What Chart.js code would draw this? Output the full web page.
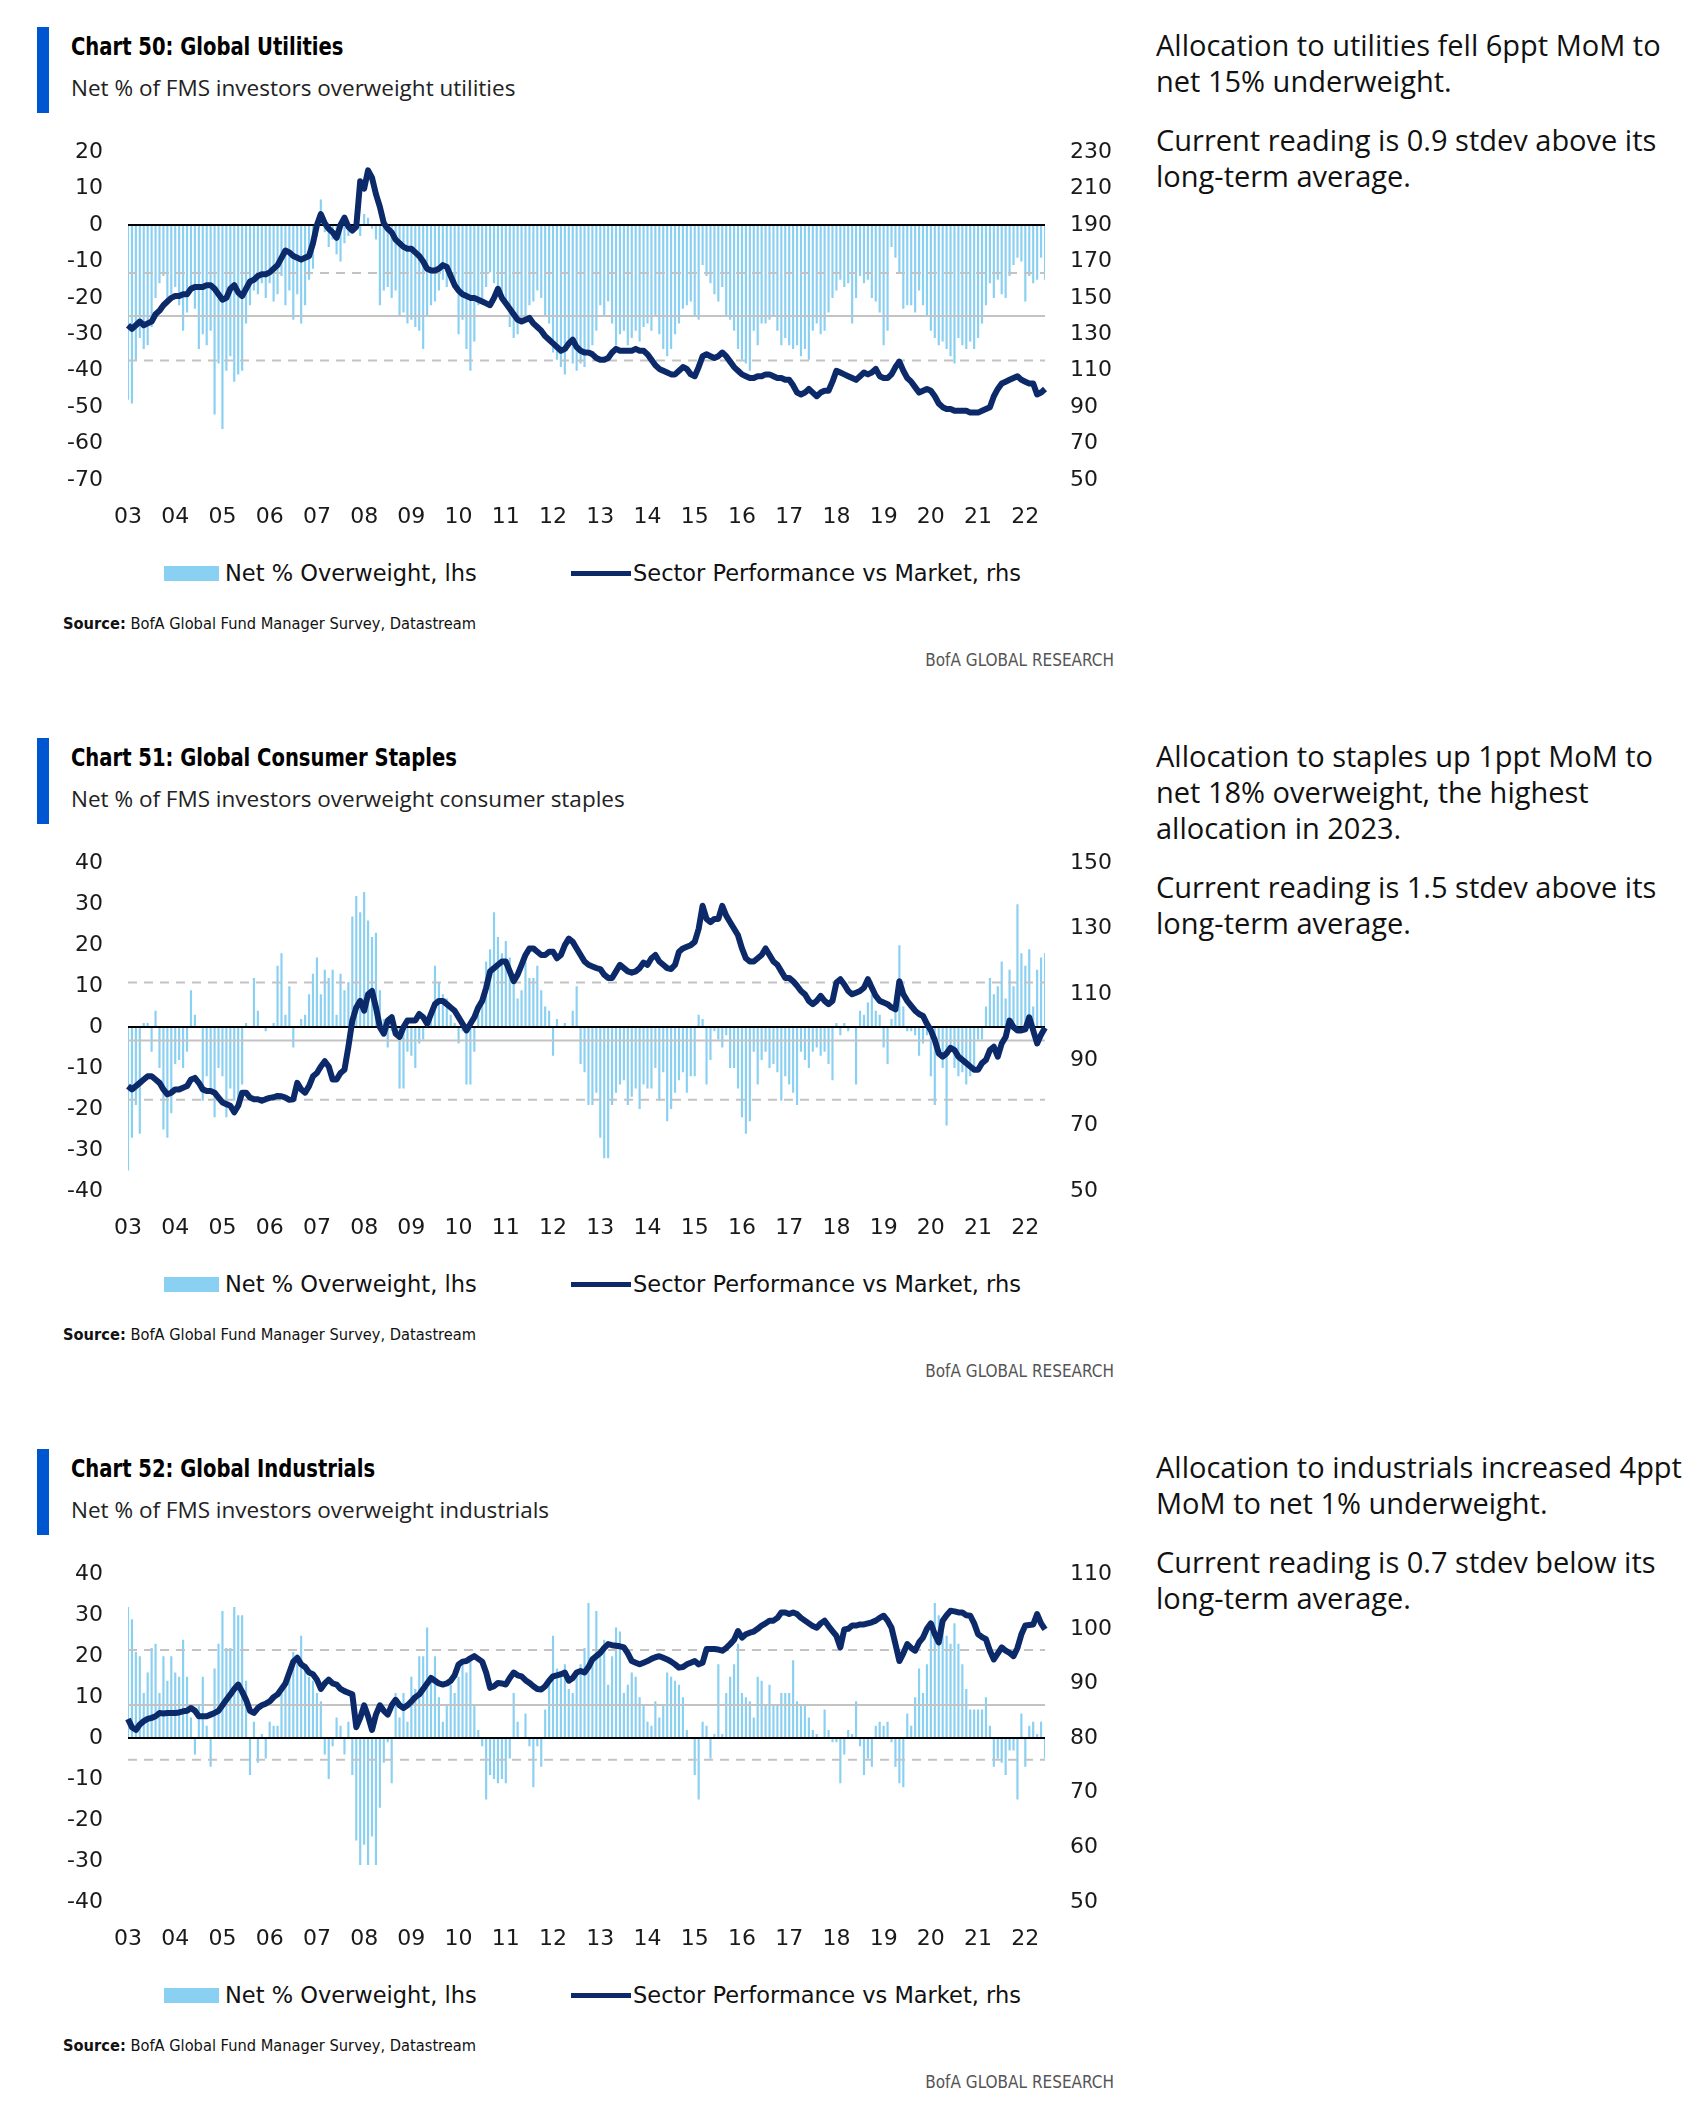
<!DOCTYPE html>
<html>
<head>
<meta charset="utf-8">
<script src="https://cdn.jsdelivr.net/npm/chart.js@4.4.1/dist/chart.umd.min.js"></script>
<style>
  body { margin: 0; background: #fff; }
  #page { position: relative; width: 1697px; height: 2108px; overflow: hidden; }
  .accent { position: absolute; left: 37px; width: 12px; height: 86px; background: #0056d0; }
  .title { position: absolute; left: 71px; font: bold 25px "Liberation Sans Narrow", "DejaVu Sans Condensed", sans-serif; color: #000; line-height: 28px; white-space: nowrap; transform: scaleX(0.87); transform-origin: 0 0; }
  .sub { position: absolute; left: 71px; font: 22.5px "Open Sans", sans-serif; color: #222; line-height: 28px; white-space: nowrap; }
  .plot { position: absolute; left: 40px; }
  .legend { position: absolute; left: 0; font: 22.5px "DejaVu Sans", sans-serif; color: #111; white-space: nowrap; }
  .legend span { position: absolute; top: 0; line-height: 24px; }
  .swatch { position: absolute; }
  .source { position: absolute; left: 63px; font: 16.3px "Liberation Sans Narrow", "DejaVu Sans Condensed", sans-serif; color: #111; line-height: 20px; white-space: nowrap; }
  .brand { position: absolute; right: 583px; font: 17px "Liberation Sans Narrow", "DejaVu Sans Condensed", sans-serif; color: #555; line-height: 20px; white-space: nowrap; }
  .note { position: absolute; left: 1156px; font: 29px "Open Sans", sans-serif; color: #111; line-height: 36px; white-space: nowrap; }
  .note p { margin: 0 0 23px 0; }
</style>
</head>
<body>
<div id="page"></div>
<script>
// year labels on the x axis; one bar / point per month, Jan 2003 - Jun 2022
const yearLabels = ['03','04','05','06','07','08','09','10','11','12','13','14','15','16','17','18','19','20','21','22'];

// Chart 50: utilities
const utilBars = [
  -48, -49, -37, -31, -34, -33, -28, -20, -16, -14, -21, -19,
  -17, -22, -29, -24, -18, -23, -34, -30, -33, -29, -52, -38,
  -56, -40, -36, -43, -41, -40, -27, -22, -18, -19, -16, -20,
  -16, -21, -19, -14, -22, -18, -26, -19, -27, -22, -15, -12,
  -3, 7, -2, -6, -4, -8, -10, -5, -3, -2, 1, -3,
  3, 2, -1, -4, -22, -18, -17, -20, -18, -25, -24, -27,
  -26, -28, -29, -34, -25, -22, -21, -18, -15, -17, -14, -16,
  -30, -26, -34, -40, -32, -22, -20, -17, -13, -16, -18, -20,
  -22, -28, -31, -30, -26, -25, -22, -21, -18, -20, -25, -27,
  -35, -37, -39, -41, -33, -38, -40, -38, -39, -34, -33, -29,
  -22, -25, -21, -27, -33, -30, -29, -33, -31, -29, -32, -28,
  -27, -29, -25, -30, -34, -36, -34, -30, -27, -23, -22, -21,
  -25, -26, -11, -14, -16, -19, -21, -17, -25, -26, -29, -34,
  -37, -38, -40, -29, -33, -27, -27, -26, -25, -29, -33, -31,
  -33, -34, -33, -36, -34, -37, -29, -27, -30, -29, -24, -20,
  -18, -15, -17, -16, -27, -20, -14, -16, -15, -20, -21, -24,
  -33, -29, -6, -9, -13, -23, -22, -22, -24, -18, -22, -25,
  -29, -31, -33, -32, -34, -36, -38, -31, -33, -34, -32, -34,
  -31, -27, -22, -16, -20, -15, -19, -20, -14, -11, -9, -10,
  -21, -14, -16, -15, -9, -15
];
const utilPerf = [
  135, 133, 135, 137, 135, 136, 137, 141, 143, 146, 148, 150,
  151, 151, 152, 152, 155, 156, 156, 156, 157, 157, 155, 152,
  149, 150, 155, 157, 153, 151, 155, 159, 160, 162, 163, 163,
  164, 166, 168, 172, 176, 175, 173, 172, 171, 172, 173, 180,
  190, 196, 191, 188, 186, 183, 190, 194, 189, 187, 189, 214,
  210, 220, 216, 207, 200, 191, 188, 186, 182, 180, 178, 177,
  177, 175, 173, 170, 166, 165, 165, 166, 168, 167, 162, 157,
  154, 152, 151, 150, 150, 149, 148, 147, 146, 150, 155, 150,
  147, 144, 141, 138, 137, 138, 139, 136, 134, 132, 129, 127,
  125, 123, 121, 122, 125, 127, 123, 121, 120, 120, 119, 117,
  116, 116, 117, 120, 122, 121, 121, 121, 121, 122, 121, 121,
  119, 116, 113, 111, 110, 109, 108, 108, 110, 112, 111, 108,
  107, 112, 118, 119, 118, 117, 118, 120, 118, 115, 112, 110,
  108, 107, 106, 106, 107, 107, 108, 108, 107, 106, 106, 105,
  105, 102, 98, 97, 98, 100, 98, 96, 98, 99, 99, 104,
  110, 109, 108, 107, 106, 105, 107, 109, 108, 109, 111, 107,
  106, 106, 108, 112, 115, 110, 106, 104, 101, 98, 99, 100,
  99, 96, 92, 90, 89, 89, 88, 88, 88, 88, 87, 87,
  87, 88, 89, 90, 96, 100, 103, 104, 105, 106, 107, 105,
  104, 103, 103, 97, 98, 100
];
const utilRef = [-37.2, -25, -13.2];   // -1 stdev, average, +1 stdev

// Chart 51: consumer staples
const stapBars = [
  -35, -27, -19, -26, 1, 1, -6, 4, -10, -25, -27, -21,
  -9, -8, -10, -6, 9, 3, 0, -18, -12, -15, -22, -10,
  -12, -22, -15, -18, -19, -14, 1, 0, 12, 4, 0, -1,
  0, 1, 15, 18, 3, 10, -5, 0, 2, 3, 8, 13,
  17, 8, 14, 12, 14, 3, 13, 9, 11, 27, 32, 28,
  33, 26, 22, 23, 9, 2, -5, -1, 0, -15, -15, -6,
  -7, -10, -4, -3, 2, 2, 15, 11, 8, 7, 3, 1,
  -4, -1, -14, -14, -6, 3, 6, 16, 19, 28, 22, 18,
  21, 17, 12, 7, 9, 16, 12, 12, 15, 9, 5, 4,
  -7, 2, 0, 1, 0, 4, 10, -9, -11, -19, -19, -16,
  -27, -32, -32, -19, -16, -14, -13, -19, -17, -15, -20, -14,
  -15, -15, -10, -18, -11, -23, -20, -16, -13, -11, -16, -12,
  -12, 3, 2, -14, -8, -1, -3, -5, -2, -10, -10, -15,
  -22, -26, -23, -6, -14, -8, -6, -10, -9, -11, -18, -12,
  -14, -16, -19, -6, -8, -10, -6, -5, -7, -6, -9, -13,
  1, -2, 1, -1, 0, -14, 4, 3, 6, 8, 4, 3,
  -5, -9, 2, 5, 20, 5, -1, -1, -2, -7, -4, -2,
  -12, -19, -7, -10, -24, -6, -10, -12, -11, -14, -12, -11,
  -3, -3, 5, 12, 8, 10, 16, 7, 14, 10, 30, 18,
  15, 19, 5, 14, 17, 18
];
const stapPerf = [
  82, 81, 82, 83, 84, 85, 85, 84, 83, 81, 79.5, 80,
  81, 81, 81.5, 82, 84, 84.5, 83, 81, 80.5, 80.5, 80, 78.5,
  77, 76.5, 76, 74, 76, 80, 80, 78.5, 78, 78, 77.5, 78,
  78.4, 78.6, 79, 78.9, 78.5, 77.8, 78, 83, 81, 80, 82, 85,
  86, 88, 89.6, 88, 84, 84, 86, 87, 94, 102, 106, 108,
  105, 110, 111, 106, 100, 98, 102, 103, 98, 97, 100, 102,
  102, 102, 104, 103, 101, 104, 107, 108, 108, 107, 106, 105,
  103, 101, 99, 101, 103, 106, 108, 112, 117, 118, 119, 120,
  120, 117, 114, 116, 119, 122, 124, 124, 123, 122, 122, 123,
  123, 121, 122, 125, 127, 126, 124, 122, 120, 119, 118.5, 118,
  117.7, 116, 115, 115, 117, 119, 118, 117, 116.6, 117, 118, 119.7,
  119, 121, 122, 120, 119, 118, 117.7, 119, 123, 124, 124.5, 125,
  126, 130, 137, 133, 132, 133, 133, 137, 134, 132, 130, 128,
  124, 121, 120, 120, 121, 122, 124, 122, 120, 119, 117, 115,
  115, 114, 112.6, 111, 110, 108, 107, 108, 109.5, 108, 107, 108,
  113.6, 114.6, 113, 111, 110, 110.5, 111, 112, 114.6, 112, 109.5, 108,
  107.5, 107, 106, 105.4, 114, 110, 108, 106.5, 105, 104, 103.4, 101,
  99, 96, 92, 91, 92, 93.7, 93, 91, 90, 89, 88, 87,
  87, 89, 90, 93, 94, 91, 95, 97, 102, 100, 99, 99,
  99.3, 103, 99, 95, 97.7, 99.8
];
const stapRef = [-17.7, -3.3, 10.9];

// Chart 52: industrials
const indBars = [
  32, 29, 21, 20, 11, 16, 22, 23, 11, 20, 14, 20,
  16, 15, 24, 15, 5, -4, 8, 15, 3, -7, 17, 23,
  31, 22, 22, 32, 30, 30, 14, -9, 4, -6, 1, -5,
  4, 3, 3, 11, 13, 16, 21, 20, 25, 18, 15, 14,
  11, 9, -4, -10, -2, 5, 3, -4, 4, -9, -25, -31,
  -26, -31, -24, -31, -17, -6, -1, -11, 11, 5, 11, 4,
  15, 12, 20, 20, 27, 14, 20, 10, 4, 8, 13, 11,
  15, 18, 16, 20, 8, 2, -2, -15, -9, -10, -11, -10,
  -11, -5, 11, 4, 0, 6, -2, -12, -2, -7, 7, 15,
  25, 17, 15, 18, 12, 11, 16, 18, 22, 33, 20, 31,
  20, 24, 13, 20, 27, 26, 11, 13, 16, 15, 10, 8,
  4, 3, 9, 5, 8, 16, 15, 14, 13, 10, 2, 0,
  -9, -15, 4, 3, -5, 1, 18, 1, 11, 15, 18, 23,
  11, 10, 9, 5, 15, 14, 8, 13, 8, 8, 11, 11,
  11, 19, 9, 8, 8, 5, 2, 1, 0, 7, 2, -1,
  -1, -11, -4, 2, 1, 9, -2, -9, -5, -7, 3, 4,
  3, 4, -1, -7, -11, -12, 6, 3, 10, 17, 11, 18,
  26, 33, 30, 26, 25, 23, 28, 23, 18, 12, 7, 7,
  7, 7, 10, 3, -7, -5, -6, -9, -3, -3, -15, 6,
  -7, 3, 4, 1, 4, -5
];
const indPerf = [
  83.5, 82, 81.5, 82.5, 83.1, 83.5, 83.7, 84, 84.6, 84.5, 84.6, 84.6,
  84.6, 84.7, 84.9, 85, 85.5, 85, 84, 84, 84, 84.3, 84.6, 85,
  86, 87, 88, 89, 89.8, 88.5, 87, 85, 84.6, 85.5, 86, 86.3,
  86.7, 87.5, 88, 89, 90, 92, 94, 94.7, 93.5, 93, 92, 91.7,
  90.7, 89, 90, 90.7, 90, 89.8, 89, 88.6, 88.3, 88, 82, 83.7,
  86, 84, 81.5, 84.3, 86, 85, 84.3, 86, 87, 86, 85.5, 86,
  86.7, 87.5, 88, 89, 90, 91, 90.5, 90, 89.8, 90, 90.5, 91.5,
  93.5, 94, 94.1, 94.6, 95, 94.5, 94, 92, 89.2, 89.5, 90.1, 90,
  89.8, 91, 92, 91.5, 91.3, 90.6, 90.1, 89.5, 89, 88.9, 89.5, 90.5,
  91.3, 91.5, 91.7, 92, 90.5, 91, 92, 92.3, 92, 93, 94.4, 95,
  95.6, 96.5, 97.2, 97, 96.9, 96.8, 96.6, 95.5, 94.1, 93.8, 93.5, 93.8,
  94.1, 94.5, 94.8, 95, 94.7, 94.4, 94, 93.5, 92.9, 93, 93.5, 93.8,
  94.1, 93.5, 93.8, 96.3, 96.3, 96.3, 96.2, 96, 96.5, 97.2, 98, 99.6,
  98.4, 99, 99.3, 99.5, 100, 100.6, 101, 101.5, 101.5, 102, 103, 103,
  102.7, 103, 102.7, 102, 101.5, 101, 100.5, 100.2, 101, 101.5, 100.5, 99.6,
  98.7, 96.6, 99.9, 100, 100.6, 100.6, 100.8, 100.8, 101, 101.2, 101.5, 102,
  102.4, 101.5, 100.2, 97.2, 94.1, 95.5, 97.2, 96.5, 96, 97.5, 98.4, 100,
  101, 99, 97.5, 101.5, 102.5, 103.3, 103.2, 103, 103, 102.5, 102.4, 101,
  99, 98.5, 98.1, 96, 94.4, 95.5, 96.6, 96, 95.6, 95, 96.5, 99,
  100.6, 100.7, 100.8, 102.7, 101, 99.9
];
const indRef = [-5.3, 8.1, 21.5];

// monthly categories built from the year labels
const months = [];
yearLabels.forEach((yy, k) => {
  const last = k === yearLabels.length - 1 ? 6 : 12;
  for (let m = 1; m <= last; m++) months.push(yy + '-' + String(m).padStart(2, '0'));
});

const barBlue = '#8ad0f2';
const navy = '#0c2a6a';
const tickFont = { family: 'DejaVu Sans', size: 22 };

const charts = [
  {
    title: 'Chart 50: Global Utilities',
    sub: 'Net % of FMS investors overweight utilities',
    bars: utilBars, perf: utilPerf, ref: utilRef,
    left: [-70, 20, 10], right: [50, 230, 20],
    note: ['Allocation to utilities fell 6ppt MoM to<br>net 15% underweight.',
           'Current reading is 0.9 stdev above its<br>long-term average.']
  },
  {
    title: 'Chart 51: Global Consumer Staples',
    sub: 'Net % of FMS investors overweight consumer staples',
    bars: stapBars, perf: stapPerf, ref: stapRef,
    left: [-40, 40, 10], right: [50, 150, 20],
    note: ['Allocation to staples up 1ppt MoM to<br>net 18% overweight, the highest<br>allocation in 2023.',
           'Current reading is 1.5 stdev above its<br>long-term average.']
  },
  {
    title: 'Chart 52: Global Industrials',
    sub: 'Net % of FMS investors overweight industrials',
    bars: indBars, perf: indPerf, ref: indRef,
    left: [-40, 40, 10], right: [50, 110, 10],
    note: ['Allocation to industrials increased 4ppt<br>MoM to net 1% underweight.',
           'Current reading is 0.7 stdev below its<br>long-term average.']
  }
];

// zero line, average and +/- 1 stdev lines, drawn over the bars but under the line
const refLines = {
  id: 'refLines',
  afterDatasetDraw(chart, args) {
    if (args.index !== 0) return;
    const { ctx, chartArea } = chart;
    const y = chart.scales.y;
    const ref = chart.options.plugins.refLines.values;
    ctx.save();
    ctx.lineWidth = 2;
    ctx.strokeStyle = '#c3c3c3';
    [ref[0], ref[2]].forEach(v => {
      ctx.setLineDash([9, 7]);
      ctx.beginPath();
      ctx.moveTo(chartArea.left, y.getPixelForValue(v));
      ctx.lineTo(chartArea.right, y.getPixelForValue(v));
      ctx.stroke();
    });
    ctx.setLineDash([]);
    ctx.beginPath();
    ctx.moveTo(chartArea.left, y.getPixelForValue(ref[1]));
    ctx.lineTo(chartArea.right, y.getPixelForValue(ref[1]));
    ctx.stroke();
    ctx.strokeStyle = '#000';
    ctx.beginPath();
    ctx.moveTo(chartArea.left, y.getPixelForValue(0));
    ctx.lineTo(chartArea.right, y.getPixelForValue(0));
    ctx.stroke();
    ctx.restore();
  }
};

const page = document.getElementById('page');

function addEl(cls, top, html) {
  const d = document.createElement('div');
  d.className = cls;
  d.style.top = top + 'px';
  d.innerHTML = html;
  page.appendChild(d);
  return d;
}

charts.forEach((c, k) => {
  const dy = 711 * k;
  addEl('accent', 27 + dy, '');
  addEl('title', 33 + dy, c.title);
  addEl('sub', 74 + dy, c.sub);
  addEl('note', 27 + dy, c.note.map(t => '<p>' + t + '</p>').join(''));

  const lg = addEl('legend', 561 + dy, '');
  lg.innerHTML =
    '<div class="swatch" style="left:164px;top:5px;width:55px;height:15px;background:' + barBlue + '"></div>' +
    '<span style="left:225px">Net % Overweight, lhs</span>' +
    '<div class="swatch" style="left:571px;top:10px;width:60px;height:5px;background:' + navy + '"></div>' +
    '<span style="left:633px">Sector Performance vs Market, rhs</span>';

  addEl('source', 614 + dy, '<b>Source:</b> BofA Global Fund Manager Survey, Datastream');
  addEl('brand', 650 + dy, 'BofA GLOBAL RESEARCH');

  // tick padding (25) + half a label height sets the top of the plot area,
  // so the canvas starts a little higher to put the plot top near y=152
  const wrap = document.createElement('div');
  wrap.className = 'plot';
  wrap.style.top = (114 + dy) + 'px';
  const cv = document.createElement('canvas');
  cv.width = 1090;
  cv.height = 426;
  wrap.appendChild(cv);
  page.appendChild(wrap);

  new Chart(cv, {
    data: {
      labels: months,
      datasets: [
        {
          type: 'bar',
          label: 'Net % Overweight, lhs',
          data: c.bars,
          backgroundColor: barBlue,
          yAxisID: 'y',
          order: 2,
          barPercentage: 0.55,
          categoryPercentage: 1
        },
        {
          type: 'line',
          label: 'Sector Performance vs Market, rhs',
          data: c.perf,
          borderColor: navy,
          borderWidth: 6,
          borderJoinStyle: 'round',
          pointRadius: 0,
          tension: 0,
          yAxisID: 'y2',
          order: 1
        }
      ]
    },
    options: {
      responsive: false,
      animation: false,
      layout: { padding: 0 },
      plugins: {
        legend: { display: false },
        tooltip: { enabled: false },
        refLines: { values: c.ref }
      },
      scales: {
        x: {
          type: 'category',
          offset: false,
          grid: { display: false, drawTicks: false },
          border: { display: false },
          ticks: {
            autoSkip: false,
            maxRotation: 0,
            padding: 24,
            font: tickFont,
            color: '#1a1a1a',
            callback: (v, i) => (i % 12 === 0 ? yearLabels[i / 12] : '')
          },
          afterFit: s => { s.height = 60; }
        },
        y: {
          position: 'left',
          min: c.left[0], max: c.left[1],
          grid: { display: false, drawTicks: false },
          border: { display: false },
          ticks: { stepSize: c.left[2], padding: 25, font: tickFont, color: '#1a1a1a' },
          afterFit: s => { s.width = 88; }
        },
        y2: {
          position: 'right',
          min: c.right[0], max: c.right[1],
          grid: { display: false, drawTicks: false },
          border: { display: false },
          ticks: { stepSize: c.right[2], padding: 25, font: tickFont, color: '#1a1a1a' },
          afterFit: s => { s.width = 85; }
        }
      }
    },
    plugins: [refLines]
  });
});
</script>
</body>
</html>
